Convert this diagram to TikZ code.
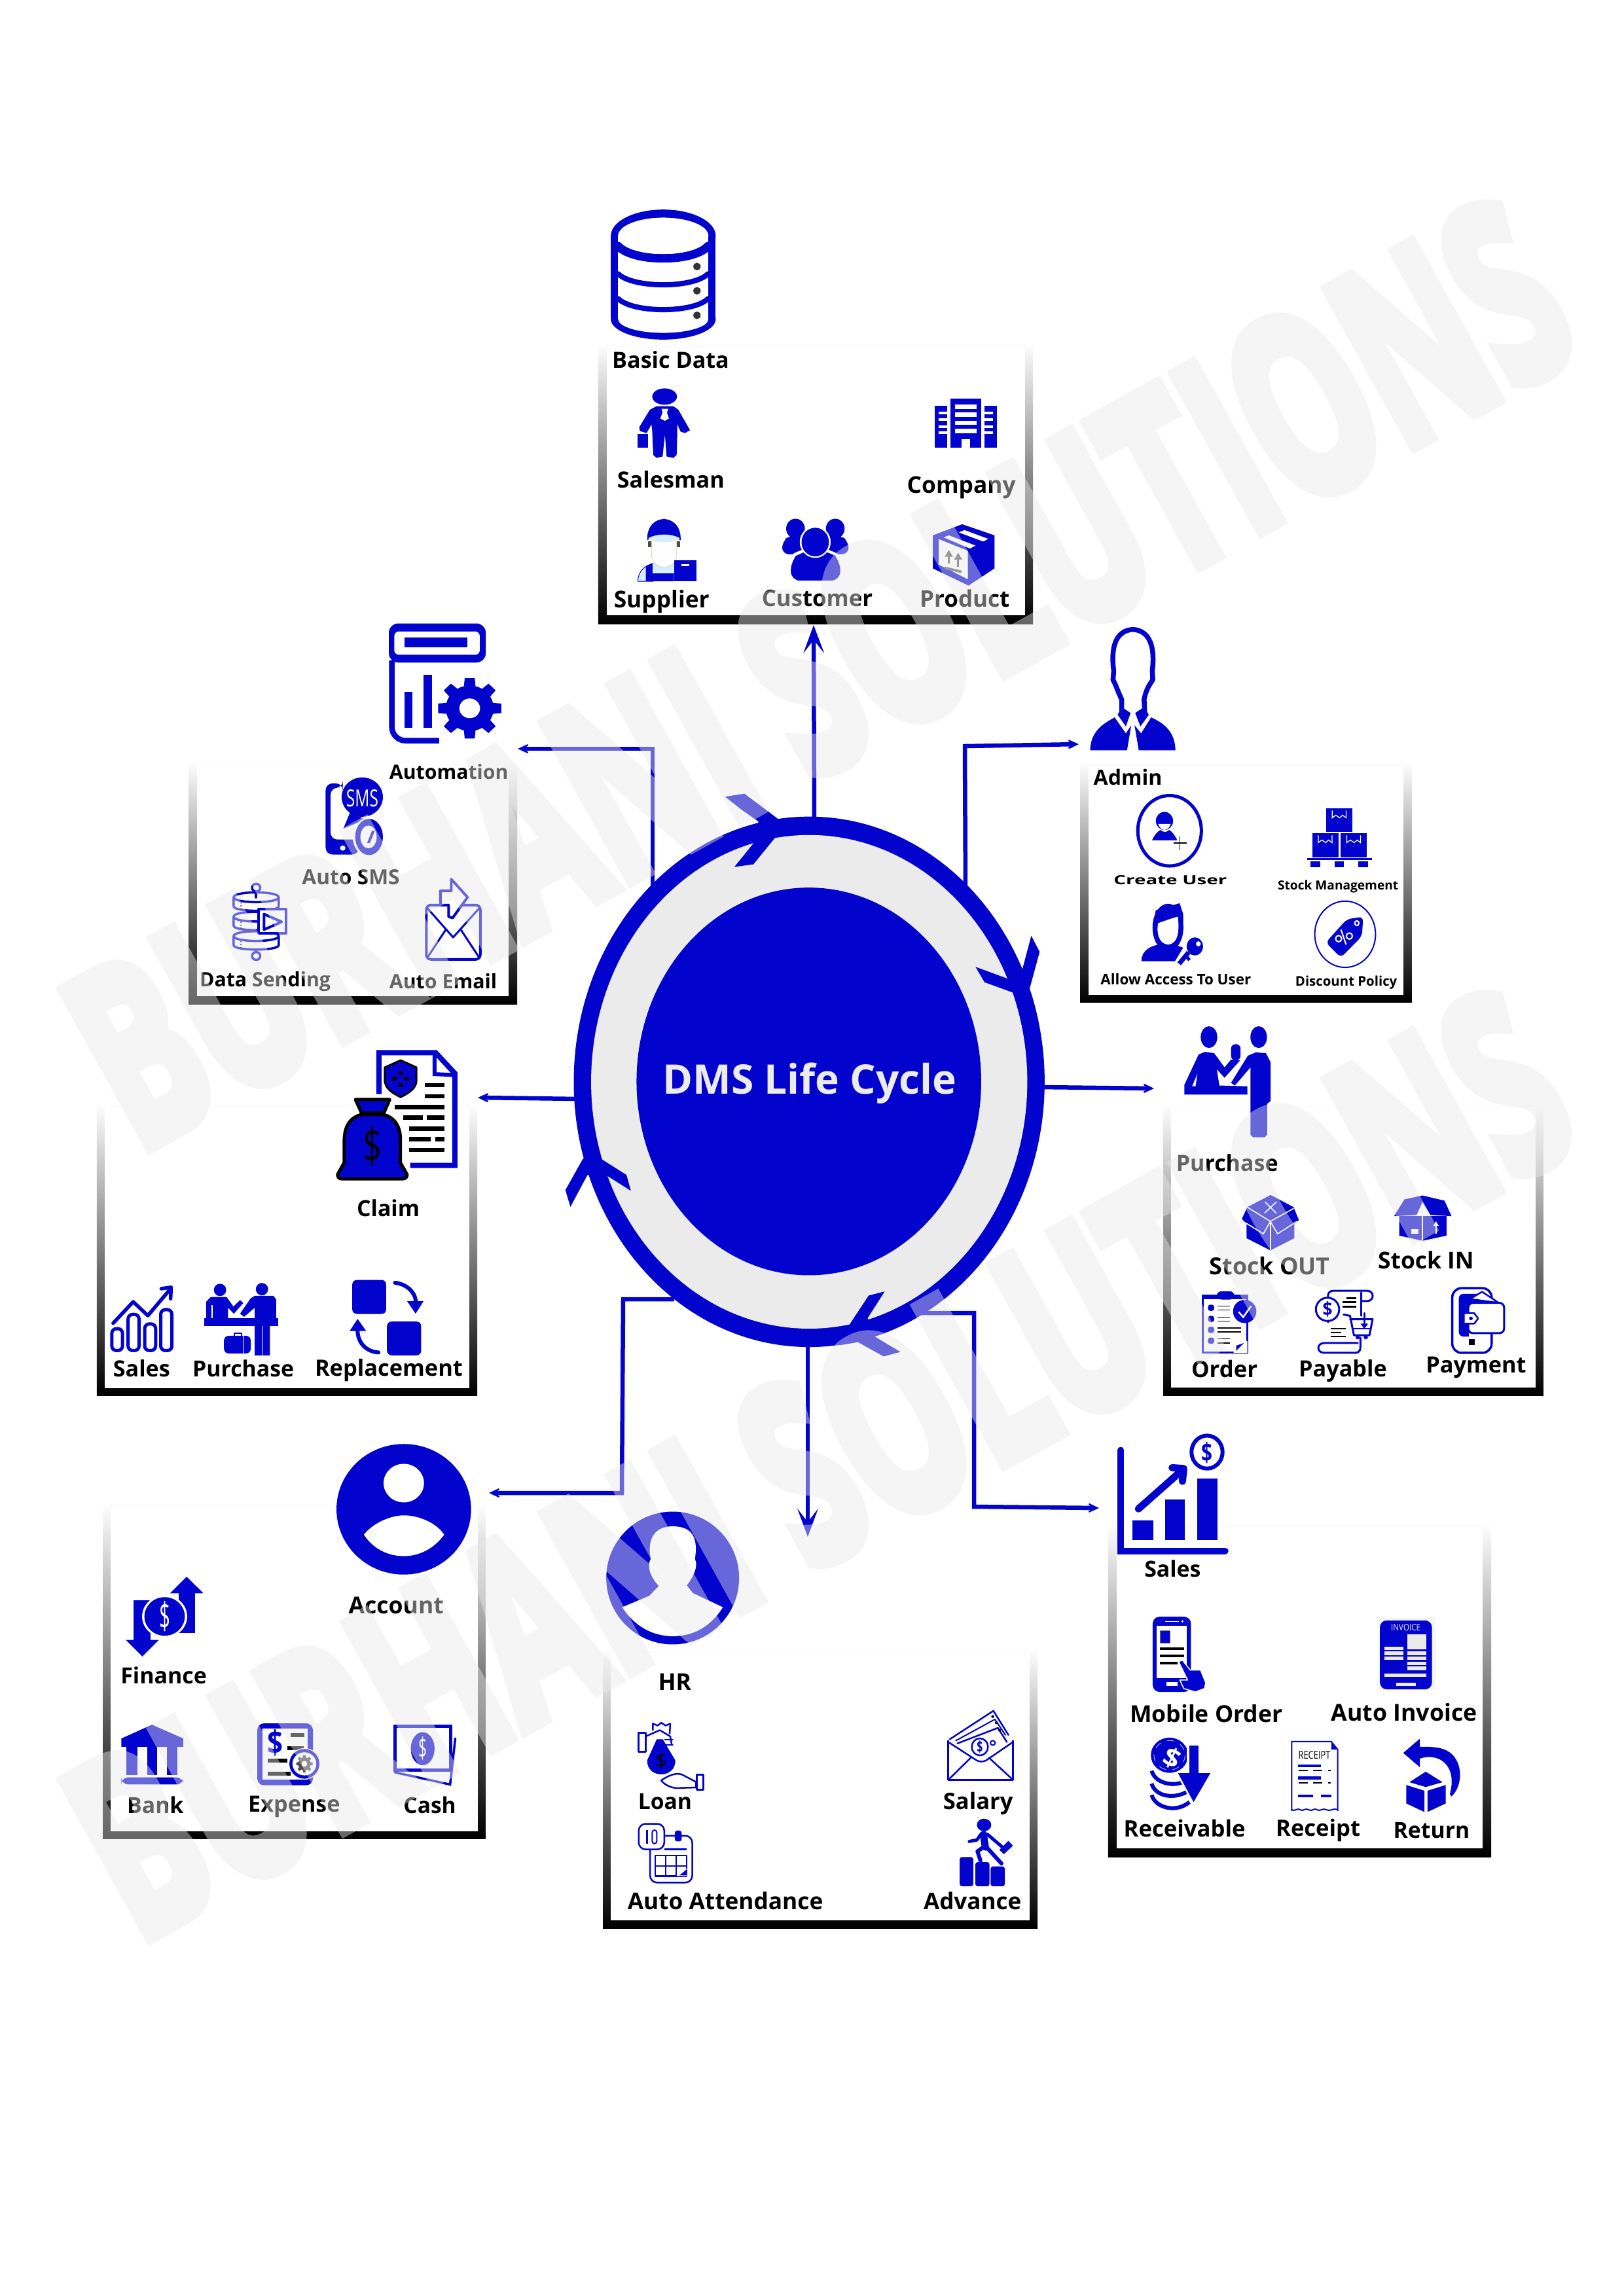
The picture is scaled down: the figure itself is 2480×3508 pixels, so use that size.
\documentclass[tikz,border=0pt]{standalone}
\usepackage{fontspec}
\setmainfont{Open Sans}
\newfontfamily\wmfont{Open Sans}[BoldFeatures={FakeBold=6}]
\usetikzlibrary{arrows.meta}
\definecolor{dblue}{HTML}{0303CE}
\definecolor{ringgrey}{HTML}{EBEBEB}
\definecolor{wmark}{HTML}{EAEAEA}
\definecolor{paleb}{HTML}{D6EEFB}
\newdimen\pxu \pxu=0.01cm
\tikzset{
 zm/.style n args={4}{shift={(#1,#2)},xscale=#3/1568,yscale=#4/1568},
 lw/.style={line width=#1\pxu},
 lbl/.style={inner sep=0pt,outer sep=0pt,font=\bfseries,text=black},
 conn/.style={draw=dblue,line width=6.5\pxu,line join=miter},
 smarrow/.style={-{Stealth[length=7.5pt,width=7pt,inset=5pt]}},
 bigarrow/.style={-{Stealth[length=12.2pt,width=9pt,inset=5.8pt]}},
 ln/.style={draw=dblue,line join=round,line cap=round},
 wmk/.style={inner sep=0pt,rotate=29,text=wmark,font=\wmfont\bfseries}
}
\newcommand\zoomin[4]{\begin{scope}[zm={#1}{#2}{#3}{#4}]\def\zw{#3}}
\newcommand\zoomout{\end{scope}}
\newcommand\ovl[5][dblue]{\fill[#1] (#2,#3) ellipse[x radius=#4,y radius=#5];}
\newcommand\rct[5][dblue]{\fill[#1] (#2,#3) rectangle (#4,#5);}
\newcommand\fr[8]{\shade[top color=white,bottom color=black] (#1,#2) rectangle (#3,#4);\fill[white] (#5,#6) rectangle (#7,#8);}
\newcommand\lab[5]{\pgfmathsetlengthmacro\labw{(#3-#2)/1568*\zw*0.2845276}%
 \node[lbl,anchor=base west] (#1) at (#2,#4) {\resizebox{\labw}{!}{#5}};}
\newcommand\gl[8][]{\node[lbl,#1] (#2) at (#3,#4) {\resizebox{#5\pxu}{#6\pxu}{\textcolor{#7}{#8}}};}
\newcommand\gear[7][dblue]{\begin{scope}[shift={(#2,#3)}]
 \fill[#1] (0,0) ellipse[x radius=#5,y radius=#5];
 \foreach \a in {0,45,...,315}{\fill[#1] (\a-14:#5) -- (\a-9:#4) -- (\a+9:#4) -- (\a+14:#5) -- cycle;}
 \fill[#7] (0,0) ellipse[x radius=#6,y radius=#6];\end{scope}}
\begin{document}
\begin{tikzpicture}[x=0.01cm,y=-0.01cm]
\useasboundingbox (0,0) rectangle (2480,3508);
\fill[white] (0,0) rectangle (2480,3508);

% ---------- connectors
\coordinate (r-top) at (1244,1255);
\coordinate (t-top) at (1243,955);
\coordinate (r-auto) at (997,1360);
\coordinate (k-auto) at (997,1144);
\coordinate (t-auto) at (791,1144);
\coordinate (r-admin) at (1475,1360);
\coordinate (k-admin) at (1474,1140);
\coordinate (t-admin) at (1648,1137);
\coordinate (r-pur) at (1590,1661);
\coordinate (t-pur) at (1763,1663);
\coordinate (r-claim) at (885,1679);
\coordinate (t-claim) at (730,1677);
\coordinate (r-acc) at (1030,1985);
\coordinate (k-acc1) at (952,1985);
\coordinate (k-acc2) at (950,2281);
\coordinate (t-acc) at (747,2281);
\coordinate (r-hr) at (1234,2050);
\coordinate (t-hr) at (1234,2348);
\coordinate (r-sal) at (1400,2006);
\coordinate (k-sal1) at (1488,2006);
\coordinate (k-sal2) at (1488,2302);
\coordinate (t-sal) at (1679,2304);
\draw[conn,bigarrow] (r-top) -- (t-top);
\draw[conn,smarrow] (r-auto) -- (k-auto) -- (t-auto);
\draw[conn,smarrow] (r-admin) -- (k-admin) -- (t-admin);
\draw[conn,smarrow] (r-pur) -- (t-pur);
\draw[conn,smarrow] (r-claim) -- (t-claim);
\draw[conn,smarrow] (r-acc) -- (k-acc1) -- (k-acc2) -- (t-acc);
\draw[conn,bigarrow] (r-hr) -- (t-hr);
\draw[conn,smarrow] (r-sal) -- (k-sal1) -- (k-sal2) -- (t-sal);

% ---------- ring
\zoomin{850}{1200}{800}{900}
\ovl{757}{789}{705}{706}
\ovl[ringgrey]{757}{789}{653}{657}
\ovl{756}{788}{516}{516}
\fill[dblue] (505,30) -- (563,22) -- (662,88) -- (654,140) -- (590,210) -- (533,217) -- (592,152) -- (605,96) -- (555,65) -- cycle;
\fill[dblue] (1422,400) -- (1447,443) -- (1418,538) -- (1372,553) -- (1282,524) -- (1255,483) -- (1353,515) -- (1396,487) -- cycle;
\fill[dblue] (27,1077) -- (80,993) -- (132,993) -- (210,1037) -- (223,1079) -- (150,1038) -- (93,1037) -- (70,1075) -- (42,1122) -- cycle;
\fill[dblue] (983,1347) -- (935,1358) -- (880,1432) -- (850,1490) -- (903,1482) -- (980,1520) -- (1030,1508) -- (955,1468) -- (932,1418) -- cycle;
\lab{title}{318}{1198}{822}{\textcolor{ringgrey}{DMS Life Cycle}}
\zoomout

% ---------- Basic Data
\zoomin{850}{280}{800}{700}
\fr{125}{545}{1427}{1508}{150}{562}{1403}{1478}
\rct{163}{180}{476}{465}
\ovl{320}{180}{157}{90}
\ovl{320}{465}{157}{70}
\rct[white]{185}{180}{454}{465}
\ovl[white]{320}{465}{135}{47}
\ovl[white]{320}{180}{135}{62}
\draw[ln,lw=13] (185,215) .. controls (230,271) and (410,271) .. (454,215);
\draw[ln,lw=8] (185,310) .. controls (230,360) and (410,360) .. (454,310);
\draw[ln,lw=8] (185,395) .. controls (230,445) and (410,445) .. (454,395);
\ovl[white]{320}{180}{135}{62}
\ovl[black!80]{421}{285}{11}{13}
\ovl[black!80]{421}{368}{11}{13}
\ovl[black!80]{421}{452}{11}{13}
\lab{l-basic}{167}{517}{632}{Basic Data}
% salesman
\ovl{324}{730}{37}{28}
\fill[dblue] (300,763) -- (350,763) -- (365,775) -- (400,845) -- (385,855) -- (372,850) -- (362,825) -- (362,855) -- (360,930) -- (350,940) -- (330,935) -- (325,860) -- (318,935) -- (300,940) -- (290,930) -- (287,850) -- (285,825) -- (270,855) -- (250,848) -- (248,835) -- (280,775) -- cycle;
\fill[white] (315,772) -- (335,772) -- (331,785) -- (337,805) -- (325,813) -- (311,805) -- (318,785) -- cycle;
\rct{243}{857}{274}{906}
\lab{l-salesman}{182}{503}{1042}{Salesman}
% company
\rct{1180}{737}{1272}{905}
\foreach \y in {758,785,813,841}{\rct[white]{1194}{\y}{1258}{\y+14}}
\rct[white]{1214}{875}{1238}{905}
\rct{1133}{762}{1171}{905}
\rct{1282}{762}{1319}{905}
\foreach \y in {782,805,828,850}{\rct[white]{1145}{\y}{1171}{\y+9}\rct[white]{1282}{\y}{1308}{\y+9}}
\lab{l-company}{1050}{1375}{1060}{Company}
% supplier
\fill[paleb,draw=dblue,lw=1] (244,1362) .. controls (245,1325) and (265,1310) .. (290,1300) -- (290,1362) -- cycle;
\fill[dblue] (268,1362) -- (268,1310) -- (290,1300) -- (352,1300) -- (352,1362) -- cycle;
\rct[paleb]{288}{1300}{352}{1335}
\fill[white,draw=brown!40,lw=0.7] (285,1225) -- (360,1225) -- (360,1280) .. controls (350,1325) and (295,1325) .. (285,1280) -- cycle;
\rct[black!70]{275}{1225}{284}{1245}
\rct[black!70]{361}{1225}{370}{1245}
\fill[dblue] (272,1222) .. controls (268,1125) and (376,1125) .. (372,1222) .. controls (340,1200) and (300,1200) .. (272,1222) -- cycle;
\ovl{322}{1153}{6}{5}
\fill[paleb] (275,1215) .. controls (300,1198) and (345,1198) .. (370,1215) .. controls (345,1232) and (300,1232) .. (275,1215) -- cycle;
\rct{352}{1290}{420}{1362}
\rct[white]{375}{1304}{398}{1310}
\lab{l-supplier}{172}{458}{1452}{Supplier}
% customer
\ovl{716}{1182}{28}{34}
\ovl{835}{1182}{28}{34}
\fill[dblue,rounded corners=3pt] (676,1270) -- (676,1225) -- (700,1205) -- (740,1205) -- (740,1270) -- cycle;
\fill[dblue,rounded corners=3pt] (810,1270) -- (810,1205) -- (850,1205) -- (875,1225) -- (875,1270) -- cycle;
\ovl[white]{775}{1228}{46}{54}
\fill[white,rounded corners=4pt] (694,1368) -- (694,1285) -- (725,1252) -- (825,1252) -- (858,1285) -- (858,1368) -- cycle;
\fill[dblue,rounded corners=4pt] (702,1360) -- (702,1292) -- (732,1260) -- (820,1260) -- (850,1292) -- (850,1360) -- cycle;
\ovl[white]{775}{1228}{46}{54}
\ovl{775}{1228}{41}{49}
\lab{l-customer}{615}{947}{1448}{Customer}
% product
\fill[dblue] (1215,1167) -- (1312,1205) -- (1312,1318) -- (1234,1377) -- (1127,1318) -- (1127,1205) -- cycle;
\fill[white] (1145,1218) -- (1232,1258) -- (1232,1355) -- (1145,1305) -- cycle;
\fill[white] (1205,1195) -- (1222,1187) -- (1293,1217) -- (1278,1226) -- cycle;
\fill[white] (1160,1212) -- (1175,1205) -- (1255,1240) -- (1238,1250) -- cycle;
\fill[black!65] (1175,1255) -- (1187,1278) -- (1163,1278) -- cycle;
\fill[black!65] (1203,1265) -- (1215,1288) -- (1191,1288) -- cycle;
\draw[black!65,lw=3] (1175,1275) -- (1175,1302);
\draw[black!65,lw=3] (1203,1285) -- (1203,1312);
\draw[black!65,lw=4] (1162,1316) -- (1213,1330);
\lab{l-product}{1088}{1357}{1450}{Product}
\zoomout

% ---------- Automation
\zoomin{250}{930}{650}{620}
\fr{92}{590}{1303}{1530}{122}{603}{1272}{1498}
\fill[dblue,rounded corners=4pt] (830,208) -- (830,57) -- (1187,57) -- (1187,208) -- cycle;
\fill[white,rounded corners=2pt] (850,178) -- (850,88) -- (1165,88) -- (1165,178) -- cycle;
\rct{887}{112}{1120}{148}
\draw[ln,lw=8.5,line cap=butt,rounded corners=6pt] (841,200) -- (841,510) -- (1015,510);
\rct{887}{320}{917}{460}
\rct{958}{255}{988}{460}
\gear{1128}{385}{118}{88}{38}{white}{}
\lab{l-auto}{832}{1270}{660}{Automation}
% auto sms
\fill[dblue,rounded corners=3pt] (597,950) -- (597,675) -- (660,675) -- (660,692) -- (615,692) -- (615,892) -- (720,892) -- (720,950) -- cycle;
\ovl[white]{660}{925}{10}{10}
\ovl{732}{728}{76}{76}
\fill[dblue] (690,780) -- (662,850) -- (740,815) -- cycle;
\ovl[white]{757}{882}{60}{76}
\ovl{757}{882}{51}{70}
\ovl[white]{755}{882}{30}{44}
\fill[dblue] (768,857) -- (778,860) -- (760,905) -- (750,905) -- cycle;
\gl{g-sms}{732}{732}{49}{26}{white}{\mdseries SMS}
\lab{l-autosms}{510}{870}{1067}{Auto SMS}
% data sending
\foreach \y in {1115,1190,1265}{
 \draw[ln,lw=3.5] (258,\y) .. controls (258,\y-25) and (424,\y-25) .. (424,\y) .. controls (424,\y+25) and (258,\y+25) .. (258,\y) -- (258,\y+35) .. controls (258,\y+58) and (424,\y+58) .. (424,\y+35) -- (424,\y);
 \foreach \d in {22,33,44}{\ovl[black]{285}{\y+\d}{3}{3}}}
\draw[ln,lw=4] (341,1092) -- (341,1115);
\draw[ln,lw=4] (341,1325) -- (341,1330);
\draw[ln,lw=3.5,fill=white] (341,1078) ellipse[x radius=15,y radius=15];
\draw[ln,lw=3.5,fill=white] (341,1342) ellipse[x radius=15,y radius=15];
\draw[ln,lw=4,fill=white] (350,1162) rectangle (450,1255);
\draw[ln,lw=4] (370,1180) -- (435,1210) -- (370,1240) -- cycle;
\lab{l-datasend}{133}{615}{1460}{Data Sending}
% auto email
\draw[ln,lw=4,rounded corners=2pt,fill=white] (968,1145) rectangle (1167,1355);
\draw[ln,lw=3] (970,1155) -- (1067,1270) -- (1165,1155);
\draw[ln,lw=3] (972,1348) -- (1040,1240);
\draw[ln,lw=3] (1163,1348) -- (1095,1240);
\draw[ln,lw=4,fill=white] (1020,1145) -- (1020,1090) -- (1060,1090) -- (1060,1045) -- (1120,1115) -- (1065,1195) -- (1050,1190) -- (1050,1145) -- cycle;
\lab{l-autoemail}{832}{1228}{1467}{Auto Email}
\zoomout

% ---------- Admin
\zoomin{1620}{930}{560}{620}
\fr{84}{590}{1503}{1522}{119}{608}{1468}{1491}
\draw[ln,lw=7.5] (262,395) -- (262,350) .. controls (245,320) and (238,295) .. (225,275) -- (228,240) .. controls (215,150) and (235,85) .. (310,80) .. controls (385,85) and (405,150) .. (393,240) -- (395,275) .. controls (375,300) and (365,320) .. (358,350) -- (360,395);
\fill[dblue] (300,403) -- (262,380) -- (245,410) -- (280,455) -- cycle;
\fill[dblue] (320,403) -- (358,380) -- (378,410) -- (342,455) -- cycle;
\fill[dblue] (127,547) .. controls (130,480) and (170,450) .. (232,420) -- (280,482) -- (303,450) -- (285,547) -- cycle;
\fill[dblue] (492,547) .. controls (490,480) and (450,445) .. (388,420) -- (345,482) -- (317,450) -- (335,547) -- cycle;
\lab{l-admin}{142}{435}{682}{Admin}
% create user
\draw[ln,lw=5] (467,858) ellipse[x radius=136,y radius=136];
\ovl{445}{820}{37}{35}
\fill[white] (418,832) .. controls (430,862) and (460,862) .. (472,832) -- cycle;
\fill[dblue] (392,895) .. controls (405,870) and (415,862) .. (428,855) .. controls (440,865) and (455,865) .. (465,855) .. controls (480,862) and (492,880) .. (500,895) -- cycle;
\draw[black,lw=1.8] (485,905) -- (540,905) (511,880) -- (511,932);
\gl{l-create}{470}{1048}{173}{14}{black}{Create User}
% stock mgmt
\rct{1138}{772}{1250}{862}
\rct{1078}{868}{1190}{960}
\rct{1198}{868}{1310}{960}
\rct{1056}{964}{1332}{972}
\rct{1070}{975}{1112}{1000}
\rct{1172}{975}{1212}{1000}
\rct{1275}{975}{1316}{1000}
\draw[white,lw=1.3] (1163,780) -- (1163,808) -- (1178,798) -- (1195,808) -- (1207,798) -- (1222,808) -- (1222,780);
\draw[white,lw=1.3] (1103,876) -- (1103,904) -- (1118,894) -- (1135,904) -- (1147,894) -- (1162,904) -- (1162,876);
\draw[white,lw=1.3] (1225,876) -- (1225,904) -- (1240,894) -- (1257,904) -- (1269,894) -- (1284,904) -- (1284,876);
\lab{l-stockm}{930}{1445}{1087}{Stock Management}
% allow access
\ovl{460}{1232}{66}{92}
\fill[dblue] (408,1165) -- (510,1138) -- (525,1180) -- (525,1215) -- (398,1215) -- cycle;
\fill[white] (418,1215) .. controls (450,1205) and (480,1195) .. (502,1190) .. controls (510,1240) and (505,1295) .. (460,1298) .. controls (420,1295) and (410,1250) .. (418,1215) -- cycle;
\fill[dblue] (347,1362) .. controls (345,1320) and (390,1300) .. (430,1297) .. controls (440,1325) and (480,1325) .. (495,1300) -- (525,1310) -- (490,1362) -- cycle;
\ovl[white]{575}{1305}{43}{43}
\draw[white,lw=9] (540,1330) -- (500,1378);
\ovl{575}{1305}{35}{35}
\ovl[white]{590}{1295}{10}{10}
\draw[dblue,lw=7] (548,1328) -- (508,1372);
\draw[dblue,lw=5] (540,1345) -- (552,1358);
\lab{l-allow}{172}{815}{1452}{Allow Access To User}
% discount
\draw[ln,lw=2] (1218,1258) ellipse[x radius=130,y radius=128];
\fill[dblue,rounded corners=2pt] (1135,1290) -- (1225,1200) -- (1295,1190) -- (1290,1265) -- (1200,1348) -- cycle;
\draw[white,lw=2,fill=none] (1190,1275) ellipse[x radius=13,y radius=12];
\draw[white,lw=2] (1236,1265) ellipse[x radius=13,y radius=12];
\draw[white,lw=2] (1200,1240) -- (1222,1298);
\draw[white,lw=2] (1268,1215) ellipse[x radius=9,y radius=9];
\lab{l-discount}{1005}{1440}{1458}{Discount Policy}
\zoomout

% ---------- Claim
\zoomin{130}{1580}{640}{570}
\fr{44}{290}{1468}{1520}{74}{305}{1437}{1487}
\draw[ln,lw=8,line cap=butt,line join=miter] (1100,252) -- (1100,78) -- (1312,78) -- (1384,165) -- (1384,552) -- (1217,552);
\draw[ln,lw=6,line cap=butt,line join=miter] (1308,78) -- (1308,168) -- (1384,172);
\foreach \y/\a/\b in {215/1272/1345,261/1272/1345,306/1160/1345,351/1190/1263,351/1280/1345,397/1212/1345,442/1212/1293,442/1310/1345,487/1212/1345}{\rct[black]{\a}{\y-9}{\b}{\y+9}}
\fill[dblue,draw=black,lw=3,line join=round] (1181,110) -- (1240,140) -- (1240,200) .. controls (1235,235) and (1205,250) .. (1181,265) .. controls (1157,250) and (1127,235) .. (1122,200) -- (1122,140) -- cycle;
\foreach \x/\y in {1181/162,1158/187,1204/187,1181/215}{\rct[black]{\x-8}{\y-8}{\x+8}{\y+8}}
\fill[dblue,draw=black,lw=5,line join=round] (1012,275) -- (1140,275) -- (1118,332) -- (1035,332) -- cycle;
\fill[dblue,draw=black,lw=5,line join=round] (1035,338) .. controls (990,350) and (970,390) .. (970,450) -- (970,540) -- (945,590) .. controls (945,600) and (950,608) .. (960,608) -- (1190,608) .. controls (1200,608) and (1205,600) .. (1205,590) -- (1180,540) -- (1180,440) .. controls (1180,380) and (1150,345) .. (1115,338) -- cycle;
\gl{g-bag}{1076}{470}{29}{55}{black}{\mdseries\$}
\lab{l-claim}{1017}{1252}{765}{Claim}
% sales
\foreach \a/\b/\c in {100/140/1238,161/202/1178,223/264/1218,283/325/1158}{\draw[ln,lw=5,rounded corners=2pt] (\a,\c) rectangle (\b,1330);}
\draw[ln,lw=5.5] (105,1215) -- (180,1125) -- (235,1183) -- (320,1070);
\draw[ln,lw=5.5] (285,1070) -- (322,1064) -- (320,1112);
\lab{l-csales}{105}{318}{1440}{Sales}
% purchase
\ovl{505}{1075}{23}{26}
\ovl{662}{1072}{23}{26}
\fill[dblue] (453,1195) -- (453,1125) -- (470,1105) -- (530,1105) -- (555,1145) -- (580,1118) -- (592,1130) -- (557,1175) -- (535,1150) -- (535,1195) -- cycle;
\fill[white] (474,1195) rectangle (477,1140);
\fill[dblue] (635,1100) -- (705,1100) -- (715,1115) -- (715,1195) -- (692,1195) -- (692,1350) -- (635,1350) -- (635,1150) -- (595,1188) -- (580,1175) -- (620,1110) -- cycle;
\rct{446}{1195}{722}{1226}
\rct[white]{661}{1226}{665}{1350}
\fill[dblue,rounded corners=2pt] (520,1268) rectangle (620,1342);
\draw[ln,lw=2.5] (558,1268) -- (558,1257) -- (585,1257) -- (585,1268);
\rct[white]{592}{1268}{595}{1342}
\lab{l-cpurchase}{402}{782}{1440}{Purchase}
% replacement
\fill[dblue,rounded corners=2pt] (1000,1033) rectangle (1127,1176);
\fill[dblue,rounded corners=2pt] (1130,1208) rectangle (1258,1350);
\draw[ln,lw=6] (1160,1045) .. controls (1200,1050) and (1235,1080) .. (1238,1125);
\fill[dblue] (1205,1122) -- (1267,1122) -- (1237,1175) -- cycle;
\draw[ln,lw=6] (1098,1338) .. controls (1055,1335) and (1020,1300) .. (1020,1245);
\fill[dblue] (990,1248) -- (1052,1248) -- (1020,1197) -- cycle;
\lab{l-replace}{860}{1413}{1437}{Replacement}
\zoomout

% ---------- Purchase
\zoomin{1760}{1530}{620}{620}
\fr{43}{395}{1512}{1524}{74}{410}{1481}{1493}
\ovl{220}{138}{32}{42}
\ovl{412}{138}{32}{42}
\fill[dblue] (125,360) -- (125,322) -- (180,205) -- (205,195) -- (240,200) -- (280,255) -- (305,225) -- (340,228) -- (280,295) -- (250,262) -- (260,325) -- (368,328) -- (368,360) -- cycle;
\fill[white] (155,328) -- (175,280) -- (168,328) -- cycle;
\fill[dblue,rounded corners=2pt] (305,165) rectangle (342,228);
\fill[dblue] (305,315) -- (370,210) -- (400,197) -- (440,200) -- (458,235) -- (458,385) -- (445,395) -- (445,515) -- (435,525) -- (390,525) -- (380,515) -- (380,255) -- (320,325) -- cycle;
\lab{l-purchase}{93}{487}{655}{Purchase}
% stock out
\fill[dblue] (458,748) -- (547,795) -- (567,845) -- (550,860) -- (550,915) -- (457,962) -- (365,915) -- (365,860) -- (347,840) -- (368,795) -- cycle;
\draw[white,lw=1.6] (368,795) -- (457,850) -- (547,800);
\draw[white,lw=1.6] (457,850) -- (457,962);
\draw[white,lw=1.6] (360,855) -- (430,898) -- (457,850) -- (485,898) -- (560,850);
\draw[white,lw=1.6] (437,775) -- (480,818) (480,775) -- (435,818);
\lab{l-stockout}{222}{687}{1055}{Stock OUT}
% stock in
\fill[dblue] (955,830) -- (1138,830) -- (1138,905) -- (1045,925) -- (955,905) -- cycle;
\fill[dblue] (975,765) -- (1045,750) -- (1130,770) -- (1157,830) -- (1075,825) -- (1045,775) -- (1022,825) -- (935,830) -- cycle;
\draw[white,lw=1.6] (1045,780) -- (1045,925);
\rct[white]{1002}{880}{1030}{898}
\draw[white,lw=2.5] (1097,865) -- (1097,897);
\fill[white] (1097,850) -- (1108,868) -- (1086,868) -- cycle;
\lab{l-stockin}{873}{1243}{1033}{Stock IN}
% order
\draw[ln,lw=3,line join=miter,fill=white] (195,1137) rectangle (368,1358);
\rct{195}{1135}{368}{1150}
\fill[dblue,rounded corners=2pt] (250,1120) rectangle (318,1152);
\foreach \y/\e in {1177/302,1192/302,1220/302,1235/302,1262/344,1277/344,1304/302,1320/302}{\rct[black]{252}{\y-2}{\e}{\y+2}}
\foreach \y in {1184,1227,1269,1311}{\fill[dblue,rounded corners=1pt] (216,\y-12) rectangle (240,\y+12);}
\ovl{358}{1198}{45}{45}
\draw[white,lw=2.5] (335,1200) -- (352,1220) -- (382,1178);
\fill[white] (315,1358) -- (315,1320) -- (368,1312) -- (368,1358) -- cycle;
\fill[dblue] (325,1350) -- (325,1330) -- (355,1320) -- cycle;
\lab{l-order}{152}{407}{1453}{Order}
% payable
\draw[ln,lw=3] (680,1240) -- (680,1135) .. controls (680,1125) and (690,1118) .. (700,1118) -- (830,1118) .. controls (860,1118) and (860,1158) .. (830,1158) -- (808,1158) -- (808,1125);
\draw[ln,lw=3] (808,1158) -- (808,1215);
\draw[ln,lw=3] (805,1300) -- (805,1335) .. controls (805,1358) and (790,1358) .. (780,1358) -- (665,1358) .. controls (635,1358) and (635,1320) .. (665,1320) -- (795,1320);
\draw[ln,lw=3,fill=white] (678,1190) ellipse[x radius=45,y radius=45];
\gl{g-payable}{678}{1190}{15}{22}{dblue}{\$}
\foreach \y/\a/\b in {1147/750/790,1162/735/790,1180/735/790,1265/690/748,1280/690/730,1295/690/748}{\rct[black]{\a}{\y-3}{\b}{\y+3}}
\draw[ln,lw=3] (740,1210) -- (765,1215) -- (780,1290) -- (840,1290) -- (852,1228) -- (765,1228);
\draw[ln,lw=2.5] (775,1265) -- (845,1265);
\draw[ln,lw=3] (820,1205) -- (820,1250);
\fill[dblue] (805,1245) -- (835,1245) -- (820,1265) -- cycle;
\ovl{795}{1298}{8}{8}
\ovl{826}{1298}{8}{8}
\lab{l-payable}{567}{907}{1450}{Payable}
% payment
\draw[ln,lw=3.5,rounded corners=4pt] (1160,1108) rectangle (1312,1358);
\fill[dblue,rounded corners=2pt] (1185,1130) rectangle (1285,1295);
\rct[white]{1225}{1295}{1285}{1282}
\fill[white,draw=dblue,lw=2.5,line join=round] (1228,1150) -- (1275,1122) -- (1340,1165) -- cycle;
\fill[white,draw=dblue,lw=3,rounded corners=2pt] (1222,1165) rectangle (1360,1282);
\fill[white,draw=dblue,lw=2.5,line join=round] (1205,1205) -- (1245,1205) -- (1260,1225) -- (1245,1245) -- (1205,1245) -- cycle;
\ovl{1232}{1225}{7}{7}
\fill[black!85!dblue] (1223,1305) rectangle (1247,1328);
\lab{l-payment}{1058}{1445}{1435}{Payment}
\zoomout

% ---------- Account
\zoomin{140}{2170}{620}{660}
\fr{43}{300}{1522}{1520}{74}{315}{1491}{1491}
\ovl{1206}{323}{260}{237}
\ovl[white]{1206}{228}{78}{70}
\fill[white] (1052,415) .. controls (1090,370) and (1160,345) .. (1206,345) .. controls (1260,345) and (1330,370) .. (1362,415) .. controls (1320,470) and (1260,493) .. (1206,493) .. controls (1150,493) and (1090,470) .. (1052,415) -- cycle;
\lab{l-account}{993}{1360}{702}{Account}
% finance
\rct{163}{653}{228}{800}
\fill[dblue] (132,797) -- (260,797) -- (196,857) -- cycle;
\rct{337}{628}{400}{772}
\fill[dblue] (303,628) -- (432,628) -- (367,568) -- cycle;
\ovl[white]{282}{712}{87}{77}
\ovl{282}{712}{78}{70}
\gl{g-fin}{282}{712}{17}{43}{white}{\mdseries\$}
\lab{l-finance}{112}{445}{955}{Finance}
% bank
\fill[dblue] (115,1155) -- (233,1105) -- (354,1155) -- (354,1185) -- (115,1185) -- cycle;
\rct{135}{1185}{177}{1288}
\rct{214}{1185}{254}{1288}
\rct{292}{1185}{332}{1288}
\fill[dblue,rounded corners=3pt] (115,1296) rectangle (354,1322);
\lab{l-bank}{137}{355}{1427}{Bank}
% expense
\fill[dblue,rounded corners=3pt] (640,1100) rectangle (855,1325);
\rct[white]{660}{1120}{835}{1305}
\gl{g-exp}{710}{1170}{24}{38}{dblue}{\$}
\rct[black]{768}{1135}{822}{1150}
\rct[black]{755}{1183}{820}{1197}
\rct[black]{680}{1228}{755}{1243}
\rct[black]{680}{1275}{770}{1290}
\ovl[white]{822}{1247}{62}{57}
\ovl{822}{1247}{58}{54}
\ovl[white]{822}{1247}{46}{42}
\gear[black!70]{822}{1247}{32}{24}{11}{white}{}
\lab{l-expense}{605}{960}{1423}{Expense}
% cash
\draw[ln,lw=3.5,line join=miter] (1172,1278) -- (1385,1322) -- (1405,1155);
\draw[ln,lw=5,line join=miter,fill=white] (1172,1110) rectangle (1387,1270);
\ovl{1279}{1192}{46}{60}
\gl{g-cash}{1279}{1192}{13}{33}{white}{\mdseries\$}
\lab{l-cash}{1205}{1408}{1427}{Cash}
\zoomout

% ---------- HR
\zoomin{900}{2280}{720}{680}
\fr{46}{550}{1492}{1537}{72}{565}{1466}{1508}
\ovl{278}{302}{221}{234}
\fill[white] (110,405) -- (200,365) -- (232,330) .. controls (205,300) and (190,260) .. (205,235) .. controls (190,150) and (230,120) .. (278,120) .. controls (335,120) and (365,150) .. (352,235) .. controls (365,260) and (345,300) .. (325,328) -- (345,355) -- (445,405) .. controls (400,480) and (340,507) .. (278,507) .. controls (210,507) and (150,470) .. (110,405) -- cycle;
\lab{l-hr}{230}{340}{698}{HR}
% loan
\draw[ln,lw=3] (165,847) rectangle (188,915);
\draw[ln,lw=2.5] (188,860) -- (235,838) -- (270,860) -- (275,890);
\draw[ln,lw=2.5] (212,838) -- (212,815) -- (228,822) -- (240,812) -- (255,822) -- (270,815) -- (268,850);
\draw[ln,lw=2.5] (252,872) -- (278,872) (252,890) -- (278,890);
\fill[dblue] (225,870) -- (245,870) -- (287,945) .. controls (287,1010) and (193,1010) .. (193,945) -- cycle;
\gl{g-loan}{240}{945}{17}{22}{black}{\mdseries\$}
\draw[ln,lw=2.5] (240,1015) .. controls (260,1000) and (290,985) .. (310,995) -- (355,1020) -- (355,1040) -- (290,1042) .. controls (270,1040) and (250,1030) .. (240,1015) -- cycle;
\draw[ln,lw=3] (358,995) rectangle (380,1048);
\lab{l-loan}{163}{342}{1118}{Loan}
% salary
\draw[ln,lw=2.5] (1200,870) -- (1345,770) -- (1395,855);
\draw[ln,lw=2] (1220,875) -- (1350,800) -- (1385,855);
\draw[ln,lw=2.5] (1225,885) -- (1360,830) -- (1390,880);
\ovl[black]{1343}{790}{5}{5}
\ovl[black]{1355}{812}{5}{5}
\ovl[black]{1365}{838}{5}{5}
\draw[ln,lw=2.5] (1195,875) -- (1195,1013) -- (1410,1013) -- (1410,875);
\draw[ln,lw=2.5] (1195,880) -- (1290,945) .. controls (1300,950) and (1310,950) .. (1320,945) -- (1410,880);
\draw[ln,lw=2.5] (1198,1010) -- (1270,935) (1407,1010) -- (1330,935);
\draw[ln,lw=2.5,fill=white] (1300,897) ellipse[x radius=27,y radius=30];
\gl{g-salary}{1300}{897}{9}{18}{dblue}{\$}
\draw[ln,lw=2,fill=white] (1343,883) ellipse[x radius=8,y radius=8];
\lab{l-salary}{1178}{1410}{1116}{Salary}
% attendance
\draw[ln,lw=2.5,rounded corners=3pt,fill=white] (203,1210) rectangle (343,1375);
\draw[ln,lw=2.5,rounded corners=3pt,fill=white] (165,1168) rectangle (250,1258);
\rct{189}{1190}{197}{1238}
\draw[ln,lw=2,rounded corners=1pt] (210,1190) rectangle (225,1238);
\fill[dblue,rounded corners=1pt] (285,1192) rectangle (308,1230);
\draw[ln,lw=2.5] (220,1280) rectangle (325,1352);
\draw[ln,lw=2] (255,1280) -- (255,1352) (290,1280) -- (290,1352) (220,1316) -- (325,1316);
\rct{250}{1255}{325}{1262}
\fill[white] (290,1352) -- (325,1325) -- (325,1352) -- cycle;
\fill[dblue] (300,1350) -- (325,1328) -- (325,1350) -- cycle;
\lab{l-attend}{128}{778}{1470}{Auto Attendance}
% advance
\fill[dblue,rounded corners=1pt] (1233,1285) rectangle (1278,1388);
\fill[dblue,rounded corners=1pt] (1285,1303) rectangle (1332,1388);
\fill[dblue,rounded corners=1pt] (1336,1318) rectangle (1383,1388);
\ovl{1314}{1172}{24}{22}
\draw[ln,lw=11] (1312,1205) -- (1318,1250);
\draw[ln,lw=5] (1265,1230) -- (1290,1225) -- (1305,1203);
\draw[ln,lw=5] (1325,1205) -- (1375,1250);
\draw[ln,lw=6] (1312,1250) -- (1292,1265) -- (1302,1298);
\draw[ln,lw=6] (1322,1250) -- (1372,1308);
\fill[dblue] (1365,1260) -- (1395,1228) -- (1410,1245) -- (1380,1275) -- cycle;
\lab{l-advance}{1113}{1438}{1470}{Advance}
\zoomout

% ---------- Sales
\zoomin{1670}{2170}{620}{680}
\fr{58}{360}{1538}{1538}{90}{375}{1506}{1508}
\draw[ln,lw=10,line join=miter] (107,105) -- (107,460) -- (510,460);
\rct{152}{353}{232}{423}
\rct{277}{278}{355}{423}
\rct{402}{205}{480}{423}
\draw[ln,lw=11] (175,312) -- (345,175);
\draw[ln,lw=11] (305,167) -- (350,170) -- (345,215);
\draw[ln,lw=6] (440,112) ellipse[x radius=60,y radius=58];
\gl{g-sales}{440}{114}{17}{30}{dblue}{\$}
\lab{l-sales}{198}{416}{552}{Sales}
% mobile order
\fill[dblue,rounded corners=3pt] (230,692) rectangle (378,957);
\rct[white]{245}{725}{362}{908}
\rct[white]{278}{707}{330}{710}
\ovl[white]{345}{708}{4}{4}
\fill[dblue,draw=black!55,lw=1] (258,742) rectangle (298,785);
\foreach \y/\e in {805/352,830/352,855/325}{\rct[black]{257}{\y-4}{\e}{\y+4}}
\rct[white]{283}{922}{326}{936}
\fill[dblue,draw=white,lw=1.5,line join=round] (330,850) -- (345,845) -- (375,880) -- (415,880) -- (435,925) -- (430,945) -- (395,957) -- (350,945) -- (335,915) -- (365,915) -- cycle;
\lab{l-mobile}{142}{732}{1063}{Mobile Order}
% auto invoice
\rct[black!4]{1103}{697}{1322}{950}
\fill[dblue,rounded corners=3pt] (1108,705) rectangle (1309,948);
\rct[ringgrey]{1215}{755}{1288}{807}
\foreach \y in {797,815,833}{\rct[ringgrey]{1125}{\y}{1198}{\y+12}}
\foreach \y in {815,833,850,868}{\rct[ringgrey]{1215}{\y}{1288}{\y+12}}
\rct[ringgrey]{1125}{892}{1288}{904}
\rct[ringgrey]{1172}{925}{1246}{936}
\gl{g-invoice}{1208}{730}{45}{10}{ringgrey}{\mdseries INVOICE}
\lab{l-invoice}{920}{1483}{1060}{Auto Invoice}
% receivable
\draw[ln,lw=6,line cap=butt] (226,1235) .. controls (240,1280) and (310,1290) .. (345,1275);
\draw[ln,lw=6,line cap=butt] (226,1280) .. controls (240,1325) and (310,1335) .. (360,1310);
\draw[ln,lw=6,line cap=butt] (226,1320) .. controls (240,1365) and (320,1385) .. (372,1345);
\ovl{295}{1180}{72}{62}
\draw[white,lw=0.6,dashed] (295,1180) ellipse[x radius=60,y radius=52];
\gl[rotate=-25]{g-recv}{305}{1190}{25}{30}{white}{\$}
\fill[white] (362,1135) rectangle (372,1235);
\rct{372}{1145}{407}{1245}
\fill[white] (318,1240) -- (372,1240) -- (372,1245) -- (385,1352) -- cycle;
\fill[dblue] (328,1243) -- (453,1243) -- (388,1345) -- cycle;
\lab{l-recv}{118}{588}{1467}{Receivable}
% receipt
\draw[ln,lw=2,line join=miter] (767,1375) -- (767,1132) -- (920,1132) -- (945,1160) -- (945,1375);
\fill[dblue] (920,1135) -- (942,1160) -- (920,1160) -- cycle;
\draw[ln,lw=2] (767,1372) .. controls (780,1380) and (790,1364) .. (800,1372) .. controls (810,1380) and (820,1364) .. (832,1372) .. controls (845,1380) and (855,1364) .. (865,1372) .. controls (875,1380) and (890,1364) .. (900,1372) .. controls (915,1380) and (930,1364) .. (945,1372);
\gl[anchor=base west]{g-receipt}{793}{1193}{49}{12}{black}{\mdseries RECEIPT}
\rct{792}{1212}{880}{1222}
\rct{792}{1255}{880}{1265}
\rct{792}{1318}{850}{1328}
\rct{880}{1318}{920}{1328}
\draw[black,lw=1.6,dash pattern=on 4pt off 2.5pt] (793,1233) -- (918,1233);
\draw[black,lw=1.6,dash pattern=on 4pt off 2.5pt] (793,1277) -- (918,1277);
\lab{l-receipt}{706}{1032}{1465}{Receipt}
% return
\fill[dblue] (1222,1275) -- (1285,1238) -- (1350,1275) -- (1285,1292) -- cycle;
\fill[dblue] (1210,1285) -- (1280,1305) -- (1280,1380) -- (1210,1350) -- cycle;
\fill[dblue] (1292,1305) -- (1362,1285) -- (1362,1350) -- (1292,1380) -- cycle;
\fill[dblue] (1385,1325) .. controls (1425,1290) and (1430,1220) .. (1390,1180) .. controls (1360,1150) and (1310,1150) .. (1262,1150) -- (1262,1122) -- (1198,1172) -- (1262,1222) -- (1262,1192) .. controls (1330,1170) and (1410,1210) .. (1378,1318) -- cycle;
\lab{l-return}{1160}{1455}{1472}{Return}
\zoomout

% ---------- watermark
\begin{scope}[transparency group,opacity=0.435]
\node[wmk] (wm1) at (1250,1030) {\resizebox{2530\pxu}{275\pxu}{BURHANI SOLUTIONS}};
\node[wmk] (wm2) at (1250,2238) {\resizebox{2530\pxu}{275\pxu}{BURHANI SOLUTIONS}};
\end{scope}
\end{tikzpicture}
\end{document}
